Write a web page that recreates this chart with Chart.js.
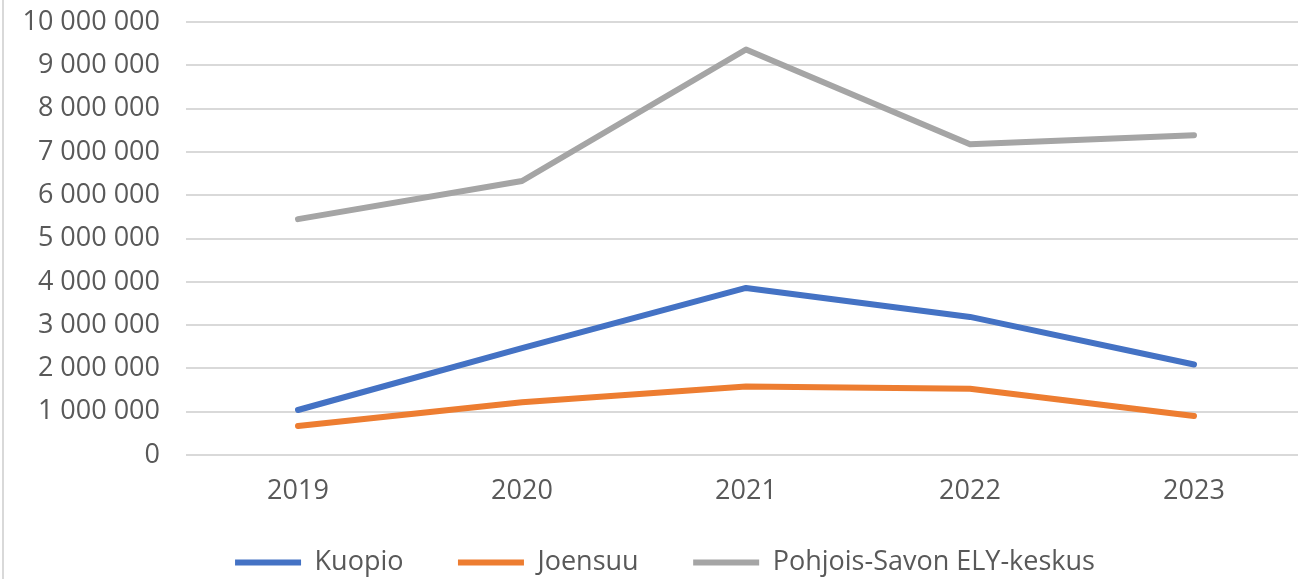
<!DOCTYPE html>
<html>
<head>
<meta charset="utf-8">
<script src="https://cdn.jsdelivr.net/npm/chart.js@4/dist/chart.umd.min.js"></script>
<style>
	html, body { margin: 0; padding: 0; background: #fff; overflow: hidden; }
	#wrap { position: relative; width: 1310px; height: 579px; overflow: hidden; }
	#edge { position: absolute; left: 2px; top: 0; width: 2px; height: 579px; background: #d9d9d9; }
	canvas { display: block; margin-top: -20px; }
</style>
</head>
<body>
<div id="wrap">
	<div id="edge"></div>
	<canvas id="chart" width="1310" height="606"></canvas>
</div>
<script>
const years = ["2019", "2020", "2021", "2022", "2023"]
const kuopio = [1040000, 2470000, 3860000, 3190000, 2090000]
const joensuu = [670000, 1220000, 1580000, 1530000, 900000]
const pohjoisSavo = [5450000, 6330000, 9370000, 7180000, 7390000]
const yTicks = [0, 1000000, 2000000, 3000000, 4000000, 5000000, 6000000, 7000000, 8000000, 9000000, 10000000]

const textColor = "#595959"
const fontFamily = "'Open Sans', 'Liberation Sans', sans-serif"

//tuhaterotin välilyönnillä
function fmt(v){
	return String(v).replace(/\B(?=(\d{3})+(?!\d))/g, " ")
}

function lineSet(label, data, color){
	return {
		label: label,
		data: data,
		borderColor: color,
		backgroundColor: color,
		borderWidth: 6,
		borderCapStyle: "round",
		borderJoinStyle: "round",
		pointRadius: 0,
		tension: 0
	}
}

const chart = new Chart("chart", {
	type: "line",
	data: {
		labels: years,
		datasets: [
			lineSet("Kuopio", kuopio, "#4472C4"),
			lineSet("Joensuu", joensuu, "#ED7D31"),
			lineSet("Pohjois-Savon ELY-keskus", pohjoisSavo, "#A5A5A5")
		]
	},
	options: {
		responsive: false,
		animation: false,
		devicePixelRatio: 1,
		layout: {
			padding: {top: 0, right: 4, bottom: 0, left: 24}
		},
		plugins: {
			tooltip: {enabled: false},
			legend: {
				position: "bottom",
				labels: {
					usePointStyle: true,
					pointStyle: "line",
					pointStyleWidth: 66,
					boxHeight: 27,
					padding: 41,
					color: textColor,
					font: {family: fontFamily, size: 27},
					//lisää väliä selitteiden väliin
					generateLabels: (chart) => {
						const items = Chart.defaults.plugins.legend.labels.generateLabels(chart)
						items.forEach((it, i) => {
							if(i < items.length - 1){
								it.text = it.text + "\u2002"
							}
						})
						return items
					}
				}
			}
		},
		scales: {
			x: {
				offset: true,
				grid: {display: false, drawTicks: false},
				border: {display: false},
				ticks: {
					padding: 20,
					maxRotation: 0,
					color: textColor,
					font: {family: fontFamily, size: 27}
				},
				afterFit: (scale) => { scale.height = 53 }
			},
			y: {
				min: 0,
				max: 10000000,
				afterBuildTicks: (scale) => { scale.ticks = yTicks.map(v => ({value: v})) },
				grid: {color: "#d9d9d9", lineWidth: 2, drawTicks: false},
				border: {display: false},
				ticks: {
					padding: 26,
					color: textColor,
					font: {family: fontFamily, size: 27},
					callback: (v) => fmt(v)
				},
				afterFit: (scale) => { scale.width = 162 }
			}
		}
	}
})
</script>
</body>
</html>
